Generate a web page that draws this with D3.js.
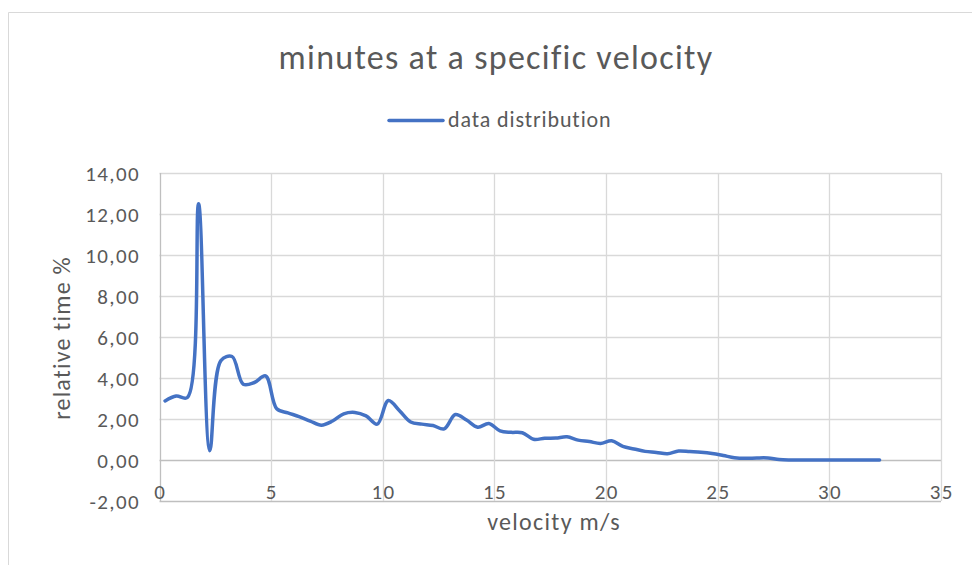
<!DOCTYPE html>
<html><head><meta charset="utf-8">
<script src="https://cdn.jsdelivr.net/npm/d3@7"></script>
<style>
body{margin:0;background:#fff;}
text{font-family:Carlito,Calibri,Lato,"Open Sans",sans-serif;fill:#595959;}
</style></head>
<body>
<svg id="chart" width="972" height="565"></svg>
<script>
const title = "minutes at a specific velocity";
const seriesName = "data distribution";
const xTitle = "velocity m/s";
const yTitle = "relative time %";
const velocity = [0.25,0.75,1.25,1.75,2.25,2.75,3.25,3.75,4.25,4.75,5.25,5.75,6.25,6.75,7.25,7.75,8.25,8.75,9.25,9.75,10.25,10.75,11.25,11.75,12.25,12.75,13.25,13.75,14.25,14.75,15.25,15.75,16.25,16.75,17.25,17.75,18.25,18.75,19.25,19.75,20.25,20.75,21.25,21.75,22.25,22.75,23.25,23.75,24.25,24.75,25.25,25.75,26.25,26.75,27.25,27.75,28.25,28.75,29.25,29.75,30.25,30.75,31.25,31.75,32.25];
const relTime = [2.88,3.12,3.05,12.5,0.45,4.85,5.05,3.7,3.78,4.1,2.5,2.3,2.12,1.9,1.7,1.9,2.25,2.32,2.15,1.75,2.9,2.4,1.85,1.75,1.68,1.52,2.22,1.95,1.6,1.78,1.42,1.35,1.33,1.01,1.06,1.07,1.13,0.97,0.9,0.81,0.94,0.66,0.54,0.42,0.37,0.3,0.44,0.41,0.38,0.32,0.22,0.11,0.08,0.1,0.1,0.02,0,0,0,0,0,0,0,0,0];
const xTicks = [0,5,10,15,20,25,30,35];
const yTicks = [-2,0,2,4,6,8,10,12,14];

const svg = d3.select("#chart");
// outer chart border
svg.append("path").attr("d","M8.5,565 L8.5,12.5 L972,12.5").attr("fill","none").attr("stroke","#d9d9d9").attr("stroke-width",1);

const x = d3.scaleLinear().domain([0,35]).range([159.5,941]);
const y = d3.scaleLinear().domain([-2,14]).range([501,173]);

const fmt = v => d3.format(".2f")(v).replace(".",",").replace("\u2212","-");

// horizontal gridlines
svg.append("g").selectAll("line").data(yTicks).join("line")
  .attr("x1",x(0)).attr("x2",x(35))
  .attr("y1",d=>Math.round(y(d))+0.5).attr("y2",d=>Math.round(y(d))+0.5)
  .attr("stroke",d=>d===0||d===-2?"#bfbfbf":"#d9d9d9").attr("stroke-width",1.3);
// vertical gridlines
svg.append("g").selectAll("line").data(xTicks).join("line")
  .attr("x1",d=>Math.round(x(d))+0.5).attr("x2",d=>Math.round(x(d))+0.5)
  .attr("y1",y(14)).attr("y2",y(-2))
  .attr("stroke",d=>d===0?"#bfbfbf":"#d9d9d9").attr("stroke-width",1.3);

// y tick labels
svg.append("g").selectAll("text").data(yTicks).join("text")
  .attr("x",140).attr("y",d=>y(d)).attr("dy","0.36em")
  .attr("text-anchor","end").attr("font-size",21).attr("letter-spacing",1.4).text(fmt);
// x tick labels
svg.append("g").selectAll("text").data(xTicks).join("text")
  .attr("x",d=>x(d)+0.7).attr("y",499)
  .attr("text-anchor","middle").attr("font-size",21).attr("letter-spacing",1.4).text(d=>d);

// line
const line = d3.line().x((d,i)=>x(velocity[i])).y(d=>y(d)).curve(d3.curveCatmullRom.alpha(0.5));
svg.append("path").datum(relTime).attr("d",line)
  .attr("fill","none").attr("stroke","#4472C4").attr("stroke-width",3.5)
  .attr("stroke-linecap","round").attr("stroke-linejoin","round");

// title
svg.append("text").attr("x",496).attr("y",69).attr("text-anchor","middle")
  .attr("font-size",34).attr("font-weight",300).attr("letter-spacing",1.3).text(title);

// legend
svg.append("line").attr("x1",389).attr("x2",443).attr("y1",120.5).attr("y2",120.5)
  .attr("stroke","#4472C4").attr("stroke-width",3.5).attr("stroke-linecap","round");
svg.append("text").attr("x",448).attr("y",127).attr("font-size",22).attr("letter-spacing",0.9).text(seriesName);

// axis titles
svg.append("text").attr("transform","translate(70,338) rotate(-90)")
  .attr("text-anchor","middle").attr("font-size",24).attr("letter-spacing",1.2).text(yTitle);
svg.append("text").attr("x",554).attr("y",530).attr("text-anchor","middle")
  .attr("font-size",24).attr("letter-spacing",1.3).text(xTitle);
</script>
</body></html>
